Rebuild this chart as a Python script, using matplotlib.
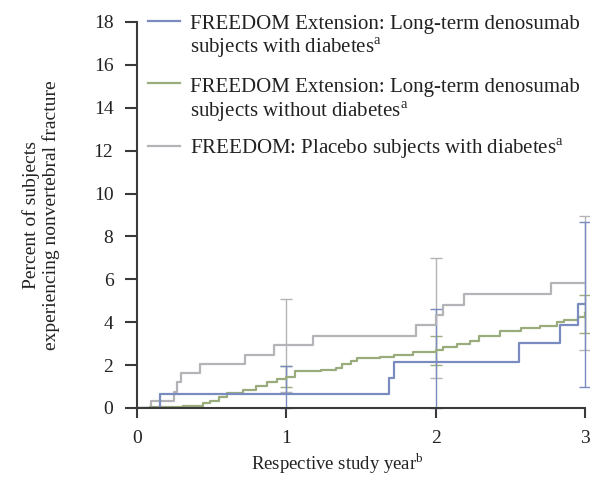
import matplotlib
matplotlib.use('Agg')
import matplotlib.pyplot as plt

plt.rcParams['font.family'] = ['Liberation Serif', 'DejaVu Serif']
plt.rcParams['mathtext.fontset'] = 'custom'
plt.rcParams['mathtext.rm'] = 'Liberation Serif'

# Kaplan-Meier style cumulative incidence (percent) by study year
blue_t = [0, 0.157, 1.685, 1.72, 2.56, 2.83, 2.95, 3.0]
blue_y = [0, 0.65, 1.40, 2.15, 3.01, 3.89, 4.85, 4.85]

green_t = [0, 0.085, 0.31, 0.44, 0.49, 0.55, 0.60, 0.71, 0.80, 0.87, 0.935, 1.0,
           1.06, 1.23, 1.33, 1.37, 1.43, 1.47, 1.63, 1.72, 1.85, 2.0, 2.05, 2.14,
           2.23, 2.29, 2.43, 2.57, 2.70, 2.81, 2.86, 2.95, 3.0]
green_y = [0, 0.05, 0.11, 0.21, 0.34, 0.49, 0.70, 0.85, 1.01, 1.19, 1.35, 1.46,
           1.71, 1.79, 1.87, 2.05, 2.20, 2.33, 2.39, 2.49, 2.59, 2.70, 2.83, 2.98,
           3.14, 3.37, 3.61, 3.71, 3.84, 3.99, 4.10, 4.26, 4.41]

gray_t = [0, 0.097, 0.25, 0.27, 0.295, 0.42, 0.72, 0.92, 1.18, 1.87, 2.0, 2.05,
          2.19, 2.77, 3.0]
gray_y = [0, 0.34, 0.76, 1.19, 1.63, 2.05, 2.49, 2.92, 3.36, 3.87, 4.35, 4.82,
          5.30, 5.81, 5.81]

# 95% CI at each study year
ci_years = [1, 2, 3]
blue_lo = [0, 0, 1.0]
blue_hi = [1.97, 4.60, 8.66]
green_lo = [0.96, 2.0, 3.48]
green_hi = [1.97, 3.37, 5.28]
gray_lo = [0.73, 1.38, 2.70]
gray_hi = [5.08, 7.0, 8.97]

labels = [
    ['FREEDOM Extension: Long-term denosumab', r'subjects with diabetes$^\mathrm{a}$'],
    ['FREEDOM Extension: Long-term denosumab', r'subjects without diabetes$^\mathrm{a}$'],
    [r'FREEDOM: Placebo subjects with diabetes$^\mathrm{a}$'],
]

BLUE = '#7a8cbf'
GREEN = '#9aac7c'
GRAY = '#b4b4b8'
AXC = '#3a3a3a'

W, H = 590, 480
fig = plt.figure(figsize=(W / 100, H / 100), dpi=100)
ax_l, ax_r, ax_t, ax_b = 137, 585, 22, 408
ax = fig.add_axes([ax_l / W, 1 - ax_b / H, (ax_r - ax_l) / W, (ax_b - ax_t) / H])

for lo, hi, c in [(gray_lo, gray_hi, GRAY), (green_lo, green_hi, GREEN), (blue_lo, blue_hi, BLUE)]:
    mid = [(a + b) / 2 for a, b in zip(lo, hi)]
    err = [(b - a) / 2 for a, b in zip(lo, hi)]
    ax.errorbar(ci_years, mid, yerr=err, fmt='none', ecolor=c, elinewidth=1.0,
                capsize=4.5, capthick=1.0, clip_on=False, zorder=2)

ax.step(gray_t, gray_y, where='post', color=GRAY, lw=1.6, zorder=3)
ax.step(green_t, green_y, where='post', color=GREEN, lw=1.6, zorder=3)
ax.step(blue_t, blue_y, where='post', color=BLUE, lw=1.6, zorder=4)

ax.set_xlim(0, 3)
ax.set_ylim(0, 18)
ax.set_xticks([0, 1, 2, 3])
ax.set_yticks(range(0, 19, 2))
for s in ['top', 'right']:
    ax.spines[s].set_visible(False)
for s in ['left', 'bottom']:
    ax.spines[s].set_color(AXC)
    ax.spines[s].set_linewidth(1.5)
    ax.spines[s].set_zorder(5)
ax.tick_params(axis='y', length=9, width=1.5, color=AXC, labelsize=14, pad=8,
               labelcolor='#222222')
ax.tick_params(axis='x', length=7, width=1.5, color=AXC, labelsize=14, pad=9,
               labelcolor='#222222')


def px(x, y):
    return (x - ax_l) / (ax_r - ax_l), (ax_b - y) / (ax_b - ax_t)


# legend drawn by hand: handle at first line, text lines on fixed baselines
handle_y = [20.7, 83.3, 145.7]
baselines = [[29, 53.3], [91.7, 116.7], [154.3]]
for c, hy, lines, bls in zip([BLUE, GREEN, GRAY], handle_y, labels, baselines):
    x0, y0 = px(147.5, hy)
    x1, _ = px(179.5, hy)
    ax.plot([x0, x1], [y0, y0], color=c, lw=1.6, transform=ax.transAxes, clip_on=False)
    for line, b in zip(lines, bls):
        tx, ty = px(190, b)
        ax.text(tx, ty, line, transform=ax.transAxes, fontsize=15, va='baseline',
                ha='left', color='#222222')

fig.text(41 / W, 1 - 215 / H, 'Percent of subjects\nexperiencing nonvertebral fracture',
         rotation=90, ha='center', va='center', fontsize=14, linespacing=1.15,
         color='#222222')
fig.text(337 / W, 1 - 470 / H, r'Respective study year$^\mathrm{b}$', ha='center',
         va='baseline', fontsize=13.5, color='#222222')

fig.savefig('out.png', dpi=100)
